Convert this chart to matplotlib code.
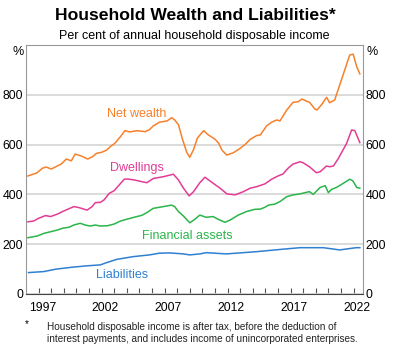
import numpy as np
import matplotlib
matplotlib.use('Agg')
import matplotlib.pyplot as plt
from matplotlib.ticker import FixedLocator, NullFormatter, FixedFormatter

plt.rcParams['font.family'] = ['Liberation Sans', 'DejaVu Sans']

# net wealth, % of disposable income
years_nw = [1996.15, 1996.85, 1997.3, 1997.6, 1998.0, 1998.4, 1998.8, 1999.2, 1999.6, 1999.9,
            2000.4, 2000.9, 2001.3, 2001.6, 2002.0, 2002.4, 2002.7, 2003.05, 2003.5, 2003.85,
            2004.25, 2004.8, 2005.45, 2005.8, 2006.1, 2006.6, 2007.2, 2007.56, 2007.8, 2008.1,
            2008.4, 2008.75, 2009.0, 2009.3, 2009.6, 2010.1, 2010.47, 2011.0, 2011.3, 2011.55,
            2011.93, 2012.45, 2013.0, 2013.4, 2013.8, 2014.3, 2014.6, 2015.1, 2015.5, 2015.9,
            2016.16, 2016.7, 2017.2, 2017.6, 2017.9, 2018.15, 2018.5, 2018.95, 2019.1, 2019.5,
            2019.86, 2020.1, 2020.5, 2020.9, 2021.3, 2021.7, 2021.97, 2022.25, 2022.5]
net_wealth = [474, 486, 505, 510, 502, 512, 522, 542, 535, 562,
              554, 542, 552, 565, 569, 578, 592, 605, 632, 656,
              651, 656, 652, 660, 675, 690, 695, 708, 699, 680,
              625, 570, 549, 580, 626, 656, 639, 622, 605, 578,
              558, 567, 585, 601, 621, 636, 639, 675, 690, 699,
              695, 739, 770, 772, 783, 777, 770, 742, 739, 763,
              790, 768, 779, 839, 900, 960, 963, 913, 884]

years_dw = [1996.15, 1996.6, 1997.0, 1997.55, 1997.95, 1998.5, 1998.9, 1999.3, 1999.8, 2000.2,
            2000.85, 2001.25, 2001.5, 2001.9, 2002.2, 2002.6, 2003.0, 2003.4, 2003.8, 2004.05,
            2004.6, 2005.2, 2005.6, 2006.1, 2006.9, 2007.7, 2008.1, 2008.5, 2008.95, 2009.3,
            2009.8, 2010.2, 2010.85, 2011.4, 2011.95, 2012.6, 2013.25, 2013.8, 2014.3, 2014.95,
            2015.5, 2016.0, 2016.4, 2016.8, 2017.2, 2017.75, 2018.0, 2018.5, 2019.05, 2019.35,
            2019.85, 2020.1, 2020.4, 2020.8, 2021.45, 2021.85, 2022.1, 2022.5]
dwellings = [290, 293, 304, 315, 311, 321, 331, 340, 351, 347,
             337, 351, 367, 368, 378, 404, 415, 438, 461, 462,
             458, 451, 447, 464, 471, 481, 458, 425, 394, 411,
             447, 469, 445, 425, 402, 398, 411, 425, 431, 442,
             461, 474, 482, 505, 522, 531, 527, 511, 487, 491,
             514, 511, 514, 545, 605, 659, 656, 608]

years_fa = [1996.15, 1996.9, 1997.45, 1997.95, 1998.5, 1998.9, 1999.4, 1999.8, 2000.3, 2000.7,
            2001.1, 2001.5, 2001.9, 2002.45, 2003.0, 2003.5, 2004.05, 2004.8, 2005.2, 2005.6,
            2006.1, 2006.9, 2007.55, 2007.8, 2008.1, 2008.5, 2009.0, 2009.4, 2009.8, 2010.3,
            2010.85, 2011.25, 2011.8, 2012.2, 2012.85, 2013.5, 2014.15, 2014.6, 2014.95, 2015.25,
            2015.75, 2016.15, 2016.7, 2017.2, 2017.75, 2018.15, 2018.5, 2018.8, 2019.35, 2019.75,
            2020.0, 2020.25, 2020.65, 2021.2, 2021.7, 2021.95, 2022.25, 2022.5]
financial = [226, 233, 244, 250, 257, 264, 268, 277, 284, 277,
             273, 277, 273, 274, 281, 293, 301, 311, 316, 327,
             344, 351, 357, 351, 331, 313, 286, 300, 317, 308,
             311, 300, 288, 297, 317, 331, 340, 341, 348, 357,
             361, 371, 391, 398, 402, 407, 411, 400, 428, 435,
             407, 420, 428, 445, 461, 454, 428, 425]

years_li = [1996.2, 1997.4, 1998.4, 1999.75, 2000.8, 2001.9, 2002.4, 2003.2, 2004.5, 2005.8,
            2006.6, 2007.4, 2008.5, 2009.0, 2009.8, 2010.3, 2011.9, 2014.3, 2016.4, 2017.75,
            2019.6, 2020.9, 2022.2, 2022.5]
liabilities = [86, 90, 100, 108, 113, 117, 126, 139, 150, 157,
               164, 165, 161, 157, 161, 166, 161, 170, 180, 186,
               186, 177, 186, 186]

year_labels = [1997, 2002, 2007, 2012, 2017, 2022]
y_ticks = [0, 200, 400, 600, 800]

c_nw = '#f7802b'
c_dw = '#e23c95'
c_fa = '#2bb54b'
c_li = '#2f80d1'

fig = plt.figure(figsize=(3.96, 3.5), dpi=100)
ax = fig.add_axes([26/396, 56/350, 337/396, 249/350])

ax.plot(years_nw, net_wealth, color=c_nw, lw=1.1)
ax.plot(years_dw, dwellings, color=c_dw, lw=1.1)
ax.plot(years_fa, financial, color=c_fa, lw=1.1)
ax.plot(years_li, liabilities, color=c_li, lw=1.1)

ax.set_xlim(1996.0, 2022.75)
ax.set_ylim(0, 1000)

# y axis: labels both sides, gridlines
ax.set_yticks(y_ticks)
ax.tick_params(axis='y', left=False, right=False, labelleft=True, labelright=True,
               length=0, labelsize=8.8, pad=2, colors='black')
ax.grid(axis='y', color='#d4d4d4', lw=1.2)
ax.set_axisbelow(True)

# x axis: yearly ticks inside, labels within the year
ax.xaxis.set_major_locator(FixedLocator(np.arange(1997, 2023)))
ax.xaxis.set_major_formatter(NullFormatter())
ax.xaxis.set_minor_locator(FixedLocator([y + 0.3 for y in year_labels]))
ax.xaxis.set_minor_formatter(FixedFormatter([str(y) for y in year_labels]))
ax.tick_params(axis='x', which='major', direction='in', length=4, width=0.8, color='#555555')
ax.tick_params(axis='x', which='minor', length=0, labelsize=8.8, pad=5.5)

for s in ['left', 'right', 'top']:
    ax.spines[s].set_color('#999999')
ax.spines['bottom'].set_color('#444444')

ax.text(2004.8, 723, 'Net wealth', color=c_nw, fontsize=9, ha='center', va='center')
ax.text(2004.8, 506, 'Dwellings', color=c_dw, fontsize=9, ha='center', va='center')
ax.text(2008.8, 233, 'Financial assets', color=c_fa, fontsize=9, ha='center', va='center')
ax.text(2003.6, 76, 'Liabilities', color=c_li, fontsize=9, ha='center', va='center')

fig.text(195/396, 1 - 16/350, 'Household Wealth and Liabilities*', fontsize=12.6,
         fontweight='bold', ha='center', va='center')
fig.text(194/396, 1 - 36/350, 'Per cent of annual household disposable income', fontsize=9,
         ha='center', va='center')
fig.text(18/396, 1 - 52/350, '%', fontsize=9, ha='center', va='center')
fig.text(372/396, 1 - 52/350, '%', fontsize=9, ha='center', va='center')

fig.text(27/396, 1 - 324/350, '*', fontsize=7.2, ha='center', va='center')
fig.text(47/396, 1 - 333/350,
         'Household disposable income is after tax, before the deduction of\n'
         'interest payments, and includes income of unincorporated enterprises.',
         fontsize=7.2, ha='left', va='center', linespacing=1.15, color='#222222')

fig.savefig('out.png', dpi=100)
